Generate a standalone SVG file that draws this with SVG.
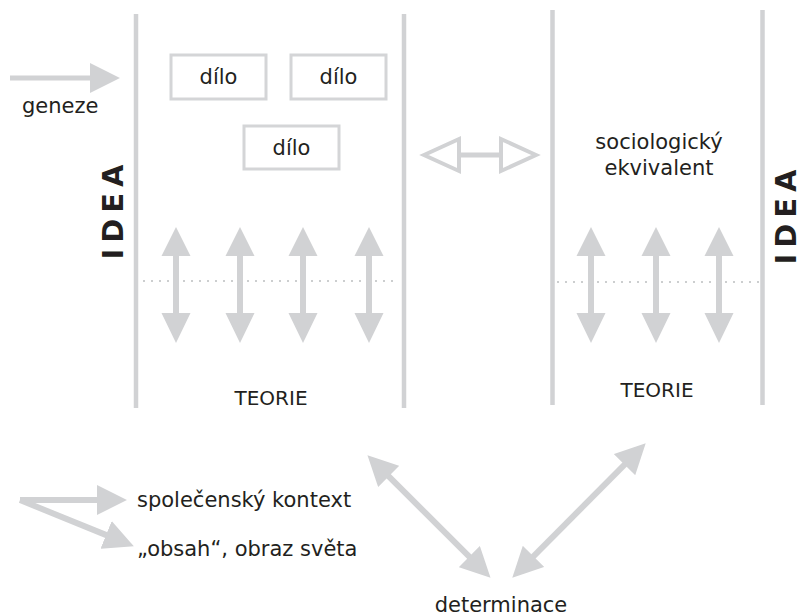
<svg xmlns="http://www.w3.org/2000/svg" width="804" height="616" viewBox="0 0 804 616">
<style>
  .col { stroke: #d1d2d4; stroke-width: 4.5; fill: none; }
  .box { fill: #ffffff; stroke: #d4d5d7; stroke-width: 3; }
  .t { font-family: "DejaVu Sans", "Noto Sans", sans-serif; font-size: 21px; fill: #231f20; }
  .mid { text-anchor: middle; }
  .idea { font-family: "DejaVu Sans", "Noto Sans", sans-serif; font-size: 29px; font-weight: bold; fill: #231f20; letter-spacing: 6px; text-anchor: middle; }
  .shaft { stroke: #d1d2d4; stroke-width: 6; fill: none; }
  .dot { stroke: #bcbec0; stroke-width: 1.6; stroke-dasharray: 2 6; fill: none; }
</style>
<defs>
  <marker id="head" markerUnits="userSpaceOnUse" markerWidth="30" markerHeight="30" viewBox="0 0 29 29" refX="1" refY="14.5" orient="auto-start-reverse">
    <path d="M0,0 L29,14.5 L0,29 Z" fill="#d1d2d4"/>
  </marker>
  <path id="vdbl" d="M0,0 L14.5,29 L3,29 L3,86 L14.5,86 L0,116 L-14.5,86 L-3,86 L-3,29 L-14.5,29 Z" fill="#d1d2d4"/>
</defs>

<g id="columns">
  <line class="col" x1="136" y1="14" x2="136" y2="408"/>
  <line class="col" x1="404" y1="14" x2="404" y2="408"/>
  <line class="col" x1="552.5" y1="10" x2="552.5" y2="405"/>
  <line class="col" x1="762.5" y1="10" x2="762.5" y2="405"/>
  <line class="dot" x1="143" y1="281" x2="399" y2="281"/>
  <line class="dot" x1="557" y1="282" x2="760" y2="282"/>
</g>

<g id="idea-left">
  <text class="idea" transform="translate(123,209) rotate(-90)">IDEA</text>
</g>
<g id="idea-right">
  <text class="idea" transform="translate(796,214) rotate(-90)">IDEA</text>
</g>

<g id="dilo1">
  <rect class="box" x="171" y="55" width="95" height="44"/>
  <text class="t mid" x="218.5" y="84">dílo</text>
</g>
<g id="dilo2">
  <rect class="box" x="291" y="55" width="95" height="44"/>
  <text class="t mid" x="338.5" y="84">dílo</text>
</g>
<g id="dilo3">
  <rect class="box" x="244" y="126" width="95" height="43"/>
  <text class="t mid" x="291.5" y="155">dílo</text>
</g>

<g id="geneze">
  <text class="t" x="22" y="113">geneze</text>
</g>

<g id="sociologicky">
  <text class="t mid" x="659" y="149">sociologický</text>
  <text class="t mid" x="659" y="175">ekvivalent</text>
</g>

<g id="teorie-left">
  <text class="t mid" x="271" y="405" style="font-size:20px">TEORIE</text>
</g>
<g id="teorie-right">
  <text class="t mid" x="657" y="397" style="font-size:20px">TEORIE</text>
</g>

<g id="legend">
  <text class="t" x="137" y="507">společenský kontext</text>
  <text class="t" x="137" y="556">„obsah“, obraz světa</text>
</g>

<g id="determinace">
  <text class="t mid" x="501" y="612">determinace</text>
</g>

<g id="connectors">
  <line x1="10" y1="78" x2="91" y2="78" stroke="#d1d2d4" stroke-width="5" marker-end="url(#head)"/>
  <use href="#vdbl" x="176" y="227"/>
  <use href="#vdbl" x="240" y="227"/>
  <use href="#vdbl" x="303" y="227"/>
  <use href="#vdbl" x="369" y="227"/>
  <use href="#vdbl" x="591" y="227"/>
  <use href="#vdbl" x="656" y="227"/>
  <use href="#vdbl" x="719" y="227"/>
  <line x1="459" y1="155" x2="501" y2="155" stroke="#d1d2d4" stroke-width="5"/>
  <path d="M424,155 L459,139 L459,171 Z M536,155 L501,139 L501,171 Z" fill="#ffffff" stroke="#d1d2d4" stroke-width="4" stroke-linejoin="miter"/>
  <line class="shaft" x1="20" y1="500" x2="98" y2="500" marker-end="url(#head)"/>
  <line class="shaft" x1="20" y1="500" x2="107" y2="535.4" marker-end="url(#head)"/>
  <line class="shaft" x1="388" y1="475.7" x2="470" y2="557.3" marker-start="url(#head)" marker-end="url(#head)"/>
  <line class="shaft" x1="625.3" y1="463.9" x2="532.7" y2="557.1" marker-start="url(#head)" marker-end="url(#head)"/>
</g>
</svg>
